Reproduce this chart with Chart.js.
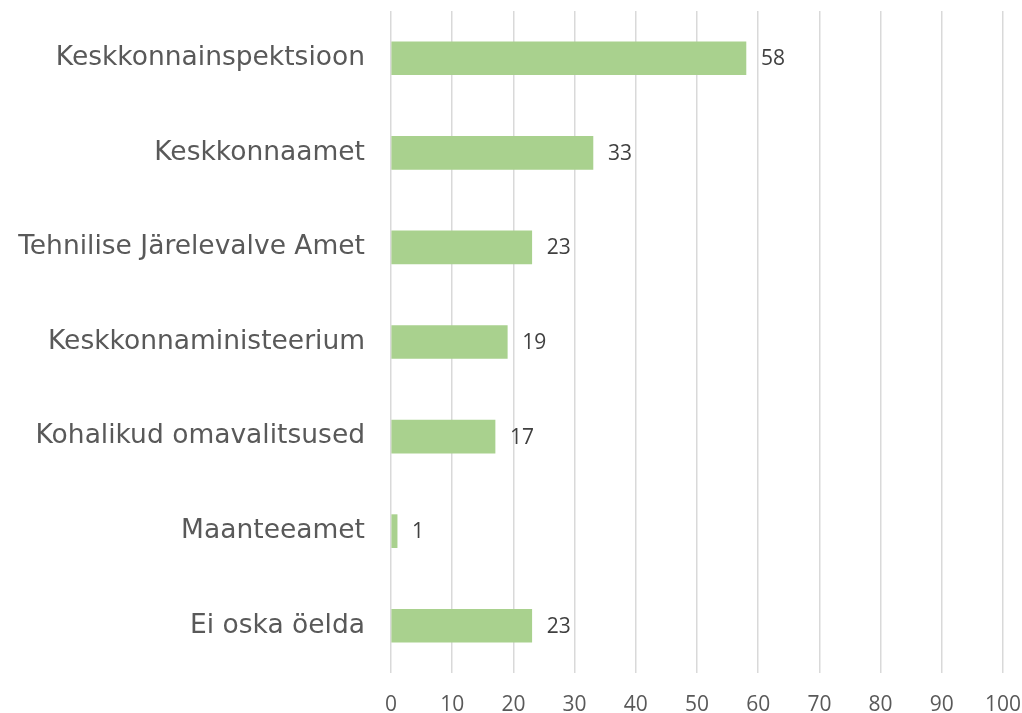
<!DOCTYPE html>
<html>
<head>
<meta charset="utf-8">
<script src="https://cdn.jsdelivr.net/npm/chart.js@4/dist/chart.umd.min.js"></script>
<style>
    html, body { margin: 0; padding: 0; background: #fff; }
    #wrap { width: 1022px; height: 713px; }
</style>
</head>
<body>
<div id="wrap"><canvas id="chart"></canvas></div>
<script>
// Categories and values
const categories = [
    "Keskkonnainspektsioon",
    "Keskkonnaamet",
    "Tehnilise Järelevalve Amet",
    "Keskkonnaministeerium",
    "Kohalikud omavalitsused",
    "Maanteeamet",
    "Ei oska öelda"
];
const values = [58, 33, 23, 19, 17, 1, 23];

// Value labels at the end of each bar
const barValueLabels =
{
    id: 'barValueLabels',
    afterDatasetsDraw(chart)
    {
        const ctx = chart.ctx;
        const meta = chart.getDatasetMeta(0);
        ctx.save();
        ctx.font = '21px "Open Sans", Lato, sans-serif';
        ctx.fillStyle = '#404040';
        ctx.textAlign = 'left';
        ctx.textBaseline = 'middle';
        meta.data.forEach((bar, i) =>
        {
            ctx.fillText(String(values[i]), bar.x + 15, bar.y + 1);
        });
        ctx.restore();
    }
};

new Chart(document.getElementById('chart'),
{
    type: 'bar',
    data:
    {
        labels: categories,
        datasets:
        [
            {
                data: values,
                backgroundColor: '#a9d18e',
                borderWidth: 0,
                barThickness: 33
            }
        ]
    },
    options:
    {
        indexAxis: 'y',
        responsive: true,
        maintainAspectRatio: false,
        animation: false,
        layout:
        {
            padding: { top: 11, right: 19, bottom: 0, left: 0 }
        },
        plugins:
        {
            legend: { display: false },
            tooltip: { enabled: false }
        },
        scales:
        {
            x:
            {
                min: 0,
                max: 100,
                ticks:
                {
                    stepSize: 10,
                    color: '#595959',
                    font: { family: '"Open Sans", sans-serif', size: 21 },
                    padding: 19
                },
                grid:
                {
                    color: '#d9d9d9',
                    lineWidth: 1.5,
                    drawTicks: false
                },
                border: { display: false },
                afterFit: (axis) =>
                {
                    axis.height = 40;
                    axis.paddingLeft = 0;
                    axis.paddingRight = 0;
                }
            },
            y:
            {
                ticks:
                {
                    color: '#595959',
                    font: { family: '"DejaVu Sans", Verdana, sans-serif', size: 26.5 },
                    padding: 26
                },
                grid: { display: false, drawTicks: false },
                border: { display: false },
                afterFit: (axis) =>
                {
                    axis.width = 391;
                    axis.paddingTop = 0;
                    axis.paddingBottom = 0;
                }
            }
        }
    },
    plugins: [barValueLabels]
});
</script>
</body>
</html>
